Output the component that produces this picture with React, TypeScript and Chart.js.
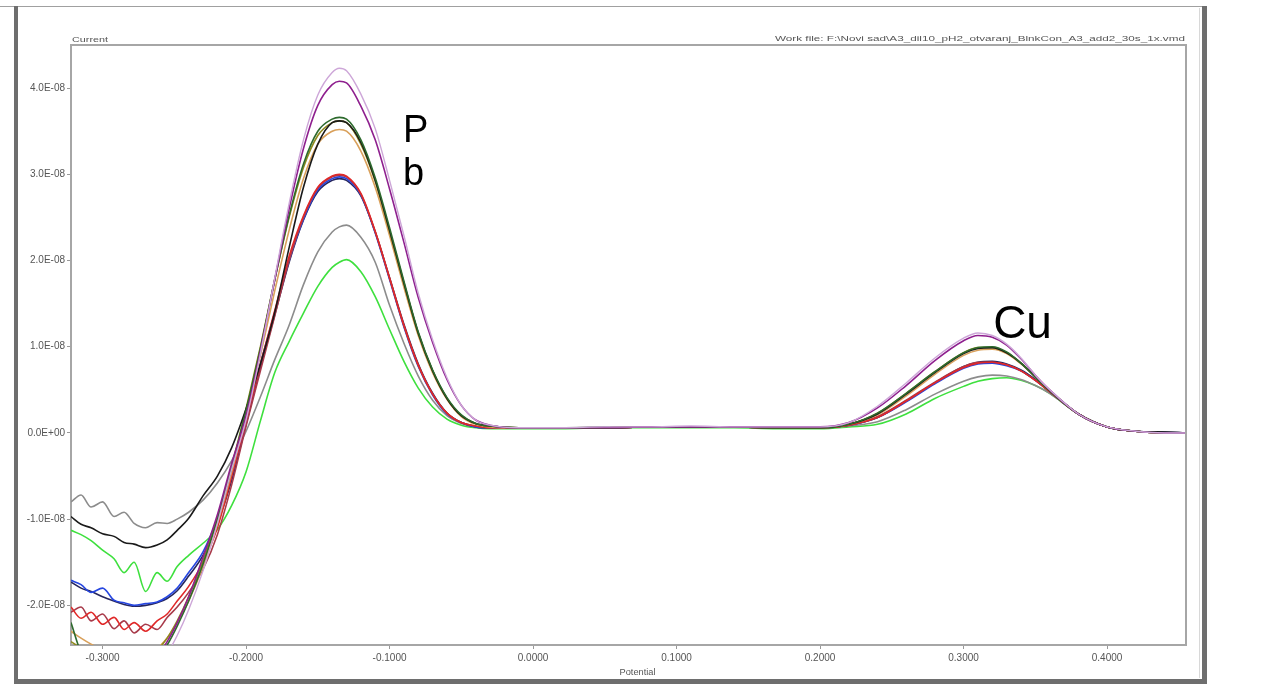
import { useEffect, useRef } from "react";
import { Chart, registerables } from "chart.js";

Chart.register(...registerables);

// Potential (V) sample positions shared by every curve
const POTENTIAL = [
  -0.322, -0.315, -0.308, -0.300, -0.292, -0.285, -0.278, -0.270, -0.262, -0.255,
  -0.248, -0.240, -0.230, -0.220, -0.210, -0.200, -0.190, -0.180, -0.170, -0.160,
  -0.150, -0.140, -0.135, -0.130, -0.120, -0.110, -0.100, -0.090, -0.080, -0.070,
  -0.060, -0.050, -0.040, -0.030, -0.010, 0.020, 0.050, 0.080, 0.110, 0.140,
  0.170, 0.200, 0.220, 0.240, 0.260, 0.280, 0.300, 0.310, 0.320, 0.330,
  0.340, 0.350, 0.360, 0.380, 0.400, 0.420, 0.440, 0.455,
];

// Currents in units of 1E-08 A
const LAVENDER = [
  -2.85, -2.92, -2.98, -3.0, -3.02, -3.0, -2.95, -2.85, -2.72, -2.56,
  -2.35, -2.05, -1.6, -1.05, -0.42, 0.15, 0.92, 1.8, 2.66, 3.4,
  3.92, 4.18, 4.23, 4.2, 3.93, 3.53, 2.93, 2.29, 1.62, 1.08,
  0.64, 0.32, 0.15, 0.09, 0.06, 0.06, 0.07, 0.07, 0.08, 0.07,
  0.07, 0.07, 0.12, 0.31, 0.58, 0.87, 1.1, 1.16, 1.13, 1.03,
  0.87, 0.67, 0.5, 0.22, 0.07, 0.02, 0.0, 0.0,
];
const PURPLE = [
  -2.62, -2.7, -2.76, -2.8, -2.83, -2.84, -2.8, -2.72, -2.58, -2.42,
  -2.2, -1.9, -1.44, -0.95, -0.35, 0.2, 0.95, 1.78, 2.6, 3.3,
  3.8, 4.04, 4.08, 4.06, 3.79, 3.4, 2.83, 2.21, 1.57, 1.05,
  0.62, 0.32, 0.15, 0.09, 0.06, 0.06, 0.06, 0.07, 0.07, 0.07,
  0.07, 0.07, 0.12, 0.29, 0.55, 0.84, 1.07, 1.13, 1.11, 1.02,
  0.86, 0.67, 0.5, 0.22, 0.07, 0.02, 0.0, 0.0,
];
const DARK_GREEN = [
  -2.2, -2.55, -2.72, -2.8, -2.85, -2.86, -2.82, -2.74, -2.62, -2.46,
  -2.24, -1.95, -1.52, -1.0, -0.4, 0.26, 0.98, 1.78, 2.52, 3.12,
  3.5, 3.64, 3.66, 3.64, 3.4, 2.96, 2.38, 1.76, 1.17, 0.73,
  0.41, 0.21, 0.11, 0.08, 0.06, 0.06, 0.06, 0.07, 0.07, 0.07,
  0.06, 0.06, 0.1, 0.23, 0.46, 0.71, 0.93, 0.99, 1.0, 0.94,
  0.81, 0.65, 0.49, 0.22, 0.07, 0.02, 0.0, 0.0,
];
const BLACK = [
  -0.97, -1.06, -1.1, -1.17, -1.2, -1.27, -1.29, -1.33, -1.3, -1.24,
  -1.13, -0.99, -0.73, -0.5, -0.17, 0.28, 0.8, 1.4, 2.15, 2.85,
  3.35, 3.6, 3.62, 3.6, 3.37, 2.93, 2.35, 1.74, 1.16, 0.72,
  0.4, 0.2, 0.11, 0.08, 0.06, 0.06, 0.06, 0.07, 0.07, 0.07,
  0.06, 0.06, 0.1, 0.22, 0.45, 0.7, 0.92, 0.98, 0.99, 0.93,
  0.81, 0.65, 0.49, 0.22, 0.07, 0.02, 0.01, 0.0,
];
const OLIVE = [
  -2.42, -2.5, -2.58, -2.64, -2.68, -2.7, -2.68, -2.62, -2.52, -2.38,
  -2.18, -1.9, -1.48, -0.98, -0.38, 0.28, 1.0, 1.78, 2.5, 3.08,
  3.45, 3.6, 3.62, 3.6, 3.35, 2.92, 2.34, 1.73, 1.15, 0.72,
  0.4, 0.2, 0.11, 0.08, 0.06, 0.06, 0.06, 0.07, 0.07, 0.07,
  0.06, 0.06, 0.1, 0.23, 0.46, 0.71, 0.93, 0.99, 0.99, 0.93,
  0.81, 0.65, 0.49, 0.22, 0.07, 0.02, 0.0, 0.0,
];
const ORANGE = [
  -2.3, -2.38, -2.45, -2.52, -2.58, -2.62, -2.62, -2.58, -2.5, -2.38,
  -2.2, -1.95, -1.55, -1.05, -0.45, 0.2, 0.9, 1.65, 2.35, 2.95,
  3.35, 3.5, 3.52, 3.5, 3.27, 2.85, 2.29, 1.69, 1.13, 0.7,
  0.39, 0.19, 0.1, 0.07, 0.06, 0.06, 0.06, 0.07, 0.07, 0.07,
  0.06, 0.06, 0.1, 0.21, 0.43, 0.68, 0.9, 0.96, 0.97, 0.92,
  0.8, 0.65, 0.49, 0.22, 0.07, 0.02, 0.0, 0.0,
];
const RED = [
  -2.02, -2.15, -2.08, -2.22, -2.14, -2.28, -2.2, -2.3, -2.18, -2.1,
  -1.95, -1.78, -1.5, -1.1, -0.5, 0.15, 0.8, 1.42, 2.05, 2.52,
  2.85, 2.98, 3.0, 2.98, 2.78, 2.34, 1.8, 1.25, 0.79, 0.45,
  0.23, 0.12, 0.08, 0.06, 0.06, 0.06, 0.06, 0.07, 0.07, 0.07,
  0.06, 0.06, 0.09, 0.18, 0.37, 0.58, 0.76, 0.81, 0.82, 0.79,
  0.72, 0.61, 0.48, 0.22, 0.07, 0.02, 0.0, 0.0,
];
const BROWN_RED = [
  -2.08, -2.02, -2.18, -2.1, -2.27, -2.18, -2.32, -2.22, -2.28, -2.14,
  -2.02, -1.85, -1.58, -1.18, -0.6, 0.08, 0.72, 1.36, 2.0, 2.5,
  2.84, 2.97, 2.99, 2.97, 2.77, 2.33, 1.79, 1.24, 0.78, 0.45,
  0.23, 0.12, 0.08, 0.06, 0.06, 0.06, 0.06, 0.07, 0.07, 0.07,
  0.06, 0.06, 0.09, 0.19, 0.38, 0.59, 0.77, 0.82, 0.82, 0.79,
  0.72, 0.61, 0.48, 0.22, 0.07, 0.02, 0.0, 0.0,
];
const BLUE = [
  -1.71, -1.76, -1.85, -1.8, -1.94, -1.97, -2.0, -1.98, -1.96, -1.9,
  -1.8, -1.62, -1.38, -1.0, -0.5, 0.15, 0.8, 1.4, 2.0, 2.48,
  2.82, 2.95, 2.97, 2.95, 2.76, 2.32, 1.78, 1.23, 0.77, 0.44,
  0.22, 0.12, 0.07, 0.06, 0.06, 0.06, 0.06, 0.07, 0.07, 0.07,
  0.06, 0.06, 0.09, 0.18, 0.36, 0.57, 0.75, 0.8, 0.81, 0.78,
  0.72, 0.61, 0.48, 0.22, 0.07, 0.02, 0.0, 0.0,
];
const NAVY = [
  -1.73, -1.8, -1.84, -1.9, -1.95, -1.99, -2.01, -2.0, -1.97, -1.92,
  -1.83, -1.66, -1.42, -1.05, -0.55, 0.1, 0.76, 1.37, 1.98, 2.47,
  2.8, 2.93, 2.95, 2.93, 2.75, 2.33, 1.8, 1.26, 0.8, 0.46,
  0.23, 0.12, 0.07, 0.06, 0.06, 0.06, 0.06, 0.07, 0.07, 0.07,
  0.06, 0.06, 0.09, 0.18, 0.37, 0.58, 0.77, 0.82, 0.83, 0.8,
  0.73, 0.62, 0.48, 0.22, 0.07, 0.02, 0.01, 0.0,
];
const GRAY = [
  -0.8, -0.72, -0.86, -0.8, -0.97, -0.92, -1.05, -1.1, -1.04, -1.05,
  -1.0, -0.92, -0.78, -0.58, -0.32, 0.02, 0.42, 0.85, 1.25, 1.72,
  2.1, 2.33, 2.39, 2.41, 2.27, 1.98, 1.48, 1.04, 0.66, 0.38,
  0.2, 0.11, 0.07, 0.06, 0.06, 0.06, 0.07, 0.07, 0.07, 0.07,
  0.06, 0.06, 0.08, 0.13, 0.27, 0.45, 0.6, 0.65, 0.67, 0.66,
  0.62, 0.55, 0.46, 0.22, 0.07, 0.02, 0.0, 0.0,
];
const GREEN = [
  -1.13, -1.18, -1.25, -1.36, -1.46, -1.62, -1.5, -1.84, -1.62, -1.72,
  -1.55, -1.42, -1.28, -1.12, -0.84, -0.45, 0.14, 0.7, 1.06, 1.39,
  1.7, 1.92, 1.98, 2.01, 1.87, 1.58, 1.2, 0.83, 0.52, 0.3,
  0.16, 0.09, 0.06, 0.05, 0.05, 0.05, 0.06, 0.06, 0.06, 0.06,
  0.05, 0.05, 0.07, 0.1, 0.22, 0.4, 0.54, 0.6, 0.63, 0.64,
  0.61, 0.55, 0.46, 0.22, 0.07, 0.02, 0.0, 0.0,
];

const SERIES_NAMES = [
  "lavender", "purple", "dark green", "black", "olive", "orange",
  "red", "brown red", "blue", "navy", "gray", "green",
];
const SERIES_DATA = [
  LAVENDER, PURPLE, DARK_GREEN, BLACK, OLIVE, ORANGE,
  RED, BROWN_RED, BLUE, NAVY, GRAY, GREEN,
];
const SERIES_COLORS = [
  "#cda6d8", "#8e1f8e", "#2d6a2d", "#1a1a1a", "#8f8a1e", "#d9a05a",
  "#e02828", "#a83a4a", "#2646e0", "#26265e", "#8c8c8c", "#3ee03e",
];

const X_TICKS = [-0.3, -0.2, -0.1, 0.0, 0.1, 0.2, 0.3, 0.4];
const Y_TICKS = [-2, -1, 0, 1, 2, 3, 4];
const X_MIN = -0.322;
const X_MAX = 0.455;
const Y_MIN = -2.46;
const Y_MAX = 4.5;

const Y_TITLE = "Current";
const X_TITLE = "Potential";
const FILE_LABEL = "Work file: F:\\Novi sad\\A3_dil10_pH2_otvaranj_BlnkCon_A3_add2_30s_1x.vmd";

// Peak annotations, anchored in data coordinates (potential, current)
const ANNOTATION_TEXT = ["P", "b", "Cu"];
const ANNOTATION_X = [-0.0906, -0.0906, 0.3206];
const ANNOTATION_Y = [3.38, 2.88, 1.1];
const ANNOTATION_SIZE = [38, 38, 46];

const FONT = "'Liberation Sans', Arial, sans-serif";

function fmtY(v: number): string {
  if (v === 0) return "0.0E+00";
  return `${v.toFixed(1)}E-08`;
}

const decorPlugin = {
  id: "decor",
  beforeDraw(chart: any) {
    const ctx = chart.ctx;
    ctx.save();
    ctx.fillStyle = "#ffffff";
    ctx.fillRect(0, 0, chart.width, chart.height);
    // outer window frame
    ctx.fillStyle = "#a0a0a0";
    ctx.fillRect(0, 6, 1207, 1);
    ctx.fillStyle = "#6e6e6e";
    ctx.fillRect(14, 6, 4, 678);
    ctx.fillRect(1202, 6, 5, 678);
    ctx.fillRect(14, 679, 1193, 5);
    ctx.fillStyle = "#d8d8d8";
    ctx.fillRect(1199, 8, 1, 670);
    ctx.restore();
  },
  afterDraw(chart: any) {
    const ctx = chart.ctx;
    const a = chart.chartArea;
    ctx.save();
    // top and right border of the plot box
    ctx.strokeStyle = "#a6a6a6";
    ctx.lineWidth = 2;
    ctx.beginPath();
    ctx.moveTo(a.left, a.top);
    ctx.lineTo(a.right, a.top);
    ctx.lineTo(a.right, a.bottom);
    ctx.stroke();

    ctx.fillStyle = "#555";
    ctx.textBaseline = "alphabetic";
    ctx.font = `8px ${FONT}`;
    ctx.textAlign = "left";
    const cw = ctx.measureText(Y_TITLE).width;
    ctx.save();
    ctx.translate(a.left + 1, a.top - 3);
    ctx.scale(36 / cw, 1);
    ctx.fillText(Y_TITLE, 0, 0);
    ctx.restore();

    const fw = ctx.measureText(FILE_LABEL).width;
    ctx.save();
    ctx.translate(a.right - 1, a.top - 4);
    ctx.scale(410 / fw, 1);
    ctx.fillText(FILE_LABEL, -fw, 0);
    ctx.restore();

    // x-axis title, below the tick labels
    ctx.font = `9px ${FONT}`;
    ctx.textAlign = "center";
    const pw = ctx.measureText(X_TITLE).width;
    ctx.save();
    ctx.translate((a.left + a.right) / 2 + 9, a.bottom + 30);
    ctx.scale(36 / pw, 1);
    ctx.fillText(X_TITLE, 0, 0);
    ctx.restore();

    // peak labels
    const xs = chart.scales.x;
    const ys = chart.scales.y;
    ctx.fillStyle = "#000";
    ctx.textAlign = "left";
    for (let i = 0; i < ANNOTATION_TEXT.length; i++) {
      ctx.font = `${ANNOTATION_SIZE[i]}px ${FONT}`;
      ctx.fillText(
        ANNOTATION_TEXT[i],
        xs.getPixelForValue(ANNOTATION_X[i]),
        ys.getPixelForValue(ANNOTATION_Y[i])
      );
    }
    ctx.restore();
  },
};

export default function App() {
  const ref = useRef<HTMLCanvasElement | null>(null);

  useEffect(() => {
    if (!ref.current) return;
    const datasets = SERIES_DATA.map((arr, i) => ({
      label: SERIES_NAMES[i],
      data: arr.map((v, j) => ({ x: POTENTIAL[j], y: v })),
      borderColor: SERIES_COLORS[i],
      backgroundColor: SERIES_COLORS[i],
      borderWidth: i === 0 ? 1.4 : 1.6,
      pointRadius: 0,
      fill: false,
      cubicInterpolationMode: "monotone" as const,
    }));

    const chart = new Chart(ref.current, {
      type: "line",
      data: { datasets },
      options: {
        animation: false,
        responsive: false,
        devicePixelRatio: 1,
        events: [],
        layout: { padding: { top: 45, right: 95, left: 0, bottom: 0 } },
        plugins: {
          legend: { display: false },
          tooltip: { enabled: false },
        },
        scales: {
          x: {
            type: "linear",
            min: X_MIN,
            max: X_MAX,
            afterBuildTicks: (s: any) => {
              s.ticks = X_TICKS.map((v) => ({ value: v }));
            },
            afterFit: (s: any) => {
              s.height = 41;
            },
            ticks: {
              autoSkip: false,
              maxRotation: 0,
              padding: 3,
              color: "#555",
              font: { size: 10, family: FONT },
              callback: (v: any) => Number(v).toFixed(4),
            },
            grid: {
              drawOnChartArea: false,
              drawTicks: true,
              tickLength: 4,
              color: "#999",
            },
            border: { display: true, color: "#a6a6a6", width: 2 },
            title: { display: false },
          },
          y: {
            type: "linear",
            min: Y_MIN,
            max: Y_MAX,
            afterBuildTicks: (s: any) => {
              s.ticks = Y_TICKS.map((v) => ({ value: v }));
            },
            afterFit: (s: any) => {
              s.width = 71;
            },
            ticks: {
              autoSkip: false,
              padding: 2,
              color: "#555",
              font: { size: 10, family: FONT },
              callback: (v: any) => fmtY(Number(v)),
            },
            grid: {
              drawOnChartArea: false,
              drawTicks: true,
              tickLength: 4,
              color: "#999",
            },
            border: { display: true, color: "#a6a6a6", width: 2 },
          },
        },
      },
      plugins: [decorPlugin],
    });
    return () => chart.destroy();
  }, []);

  return (
    <div
      style={{
        position: "fixed",
        left: 0,
        top: 0,
        width: 1281,
        height: 686,
        background: "#fff",
      }}
    >
      <canvas ref={ref} width={1281} height={686} />
    </div>
  );
}
